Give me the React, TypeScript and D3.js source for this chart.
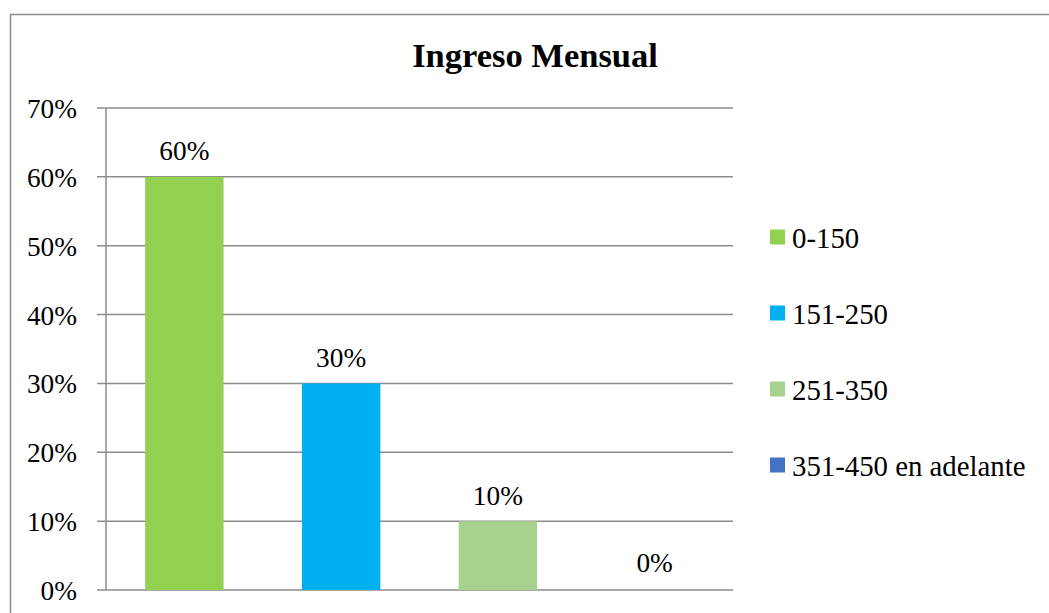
import React from "react";
import * as d3 from "d3";

const categories = ["0-150", "151-250", "251-350", "351-450 en adelante"];
const values = [0.6, 0.3, 0.1, 0];
const colors = ["#92D050", "#00B0F0", "#A9D18E", "#4472C4"];
const yTicks = [0, 0.1, 0.2, 0.3, 0.4, 0.5, 0.6, 0.7];
const title = "Ingreso Mensual";

const W = 1049;
const H = 613;
const plot = { left: 106, right: 733, top: 108, bottom: 590 };
const textStyle: React.CSSProperties = {
  fontFamily: '"Liberation Serif", "Times New Roman", Times, serif',
};

export default function App() {
  const x = d3
    .scaleBand<string>()
    .domain(categories)
    .range([plot.left, plot.right])
    .paddingInner(0.5)
    .paddingOuter(0.25);
  const y = d3.scaleLinear().domain([0, 0.7]).range([plot.bottom, plot.top]);
  const fmt = d3.format(".0%");

  return (
    <svg
      width={W}
      height={H}
      style={{ position: "absolute", left: 0, top: 0, background: "#fff", ...textStyle }}
    >
      <rect x={10.5} y={14.5} width={W} height={H} fill="#fff" stroke="#8C8C8C" strokeWidth={1.5} />
      <text x={535} y={67} textAnchor="middle" fontSize={34.5} fontWeight="bold" fill="#000" style={textStyle}>
        {title}
      </text>
      {yTicks.map((t) => (
        <g key={t}>
          <line x1={97} x2={plot.right} y1={y(t)} y2={y(t)} stroke="#8C8C8C" strokeWidth={1.5} />
          <text x={77} y={y(t) + 10} textAnchor="end" fontSize={27.3} fill="#000" style={textStyle}>
            {fmt(t)}
          </text>
        </g>
      ))}
      <line x1={plot.left} x2={plot.left} y1={plot.top} y2={plot.bottom} stroke="#8C8C8C" strokeWidth={1.5} />
      {categories.map((c, i) => (
        <g key={c}>
          <rect
            x={x(c)}
            y={y(values[i])}
            width={x.bandwidth()}
            height={plot.bottom - y(values[i])}
            fill={colors[i]}
          />
          <text
            x={(x(c) as number) + x.bandwidth() / 2}
            y={y(values[i]) - (values[i] === 0 ? 18 : 16.5)}
            textAnchor="middle"
            fontSize={27.3}
            fill="#000"
            style={textStyle}
          >
            {fmt(values[i])}
          </text>
        </g>
      ))}
      {categories.map((c, i) => {
        const cy = 237 + i * 76;
        return (
          <g key={"lg" + c}>
            <rect x={770} y={cy - 7.5} width={15} height={15} fill={colors[i]} />
            <text x={792} y={cy + 10.5} fontSize={28.8} fill="#000" style={textStyle}>
              {c}
            </text>
          </g>
        );
      })}
    </svg>
  );
}
